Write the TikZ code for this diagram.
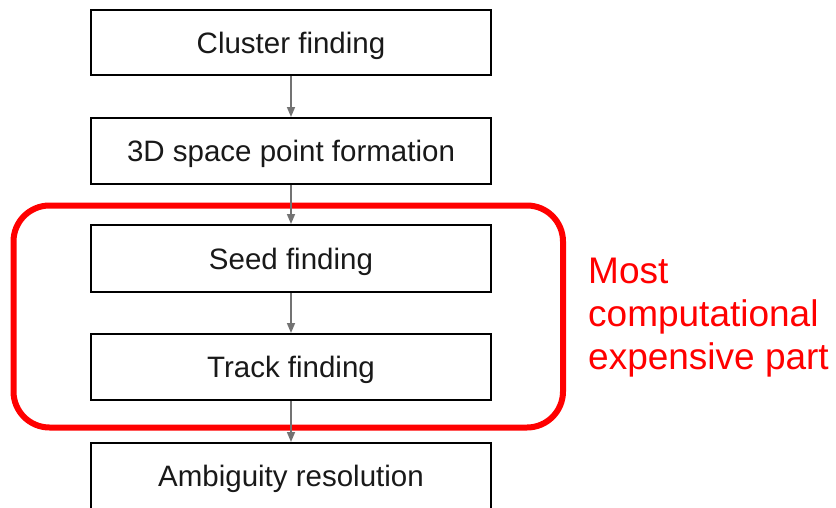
\documentclass[tikz,border=0pt]{standalone}
\usepackage{fontspec}
\setmainfont{Liberation Sans}
\usetikzlibrary{arrows.meta}
\begin{document}
\begin{tikzpicture}[x=1pt,y=-1pt,
  stepbox/.style={draw=black,line width=2pt,minimum width=400pt,minimum height=66pt,inner sep=0pt,
    text height=21pt,text depth=0pt,
    font=\fontsize{29.5}{32}\selectfont,text=black!90},
  arr/.style={draw=black!55,line width=1.5pt,-{Triangle[length=10pt,width=8pt]}},
  groupbox/.style={draw=red,line width=6pt,rounded corners=36pt,minimum width=549.5pt,minimum height=222pt,inner sep=0pt}
]
\useasboundingbox (0,0) rectangle (836,507);
\clip (0,0) rectangle (836,507);
\node[stepbox,minimum height=65pt] (b1) at (291,42.5) {Cluster finding};
\node[stepbox] (b2) at (291,151) {3D space point formation};
\node[stepbox,minimum height=67pt] (b3) at (291,258.5) {Seed finding};
\node[stepbox] (b4) at (291,367) {Track finding};
\node[stepbox] (b5) at (291,476) {Ambiguity resolution};
\node[groupbox] (grp) at (288.25,316.5) {};
\draw[arr] (b1.south) -- (b2.north);
\draw[arr] (b2.south) -- (b3.north);
\draw[arr] (b3.south) -- (b4.north);
\draw[arr] (b4.south) -- (b5.north);
\node[anchor=north west,inner sep=0pt,align=left,text=red,
  font=\fontsize{37}{43}\selectfont] (note) at (588,258) {Most\\computational\\expensive part};
\end{tikzpicture}
\end{document}
